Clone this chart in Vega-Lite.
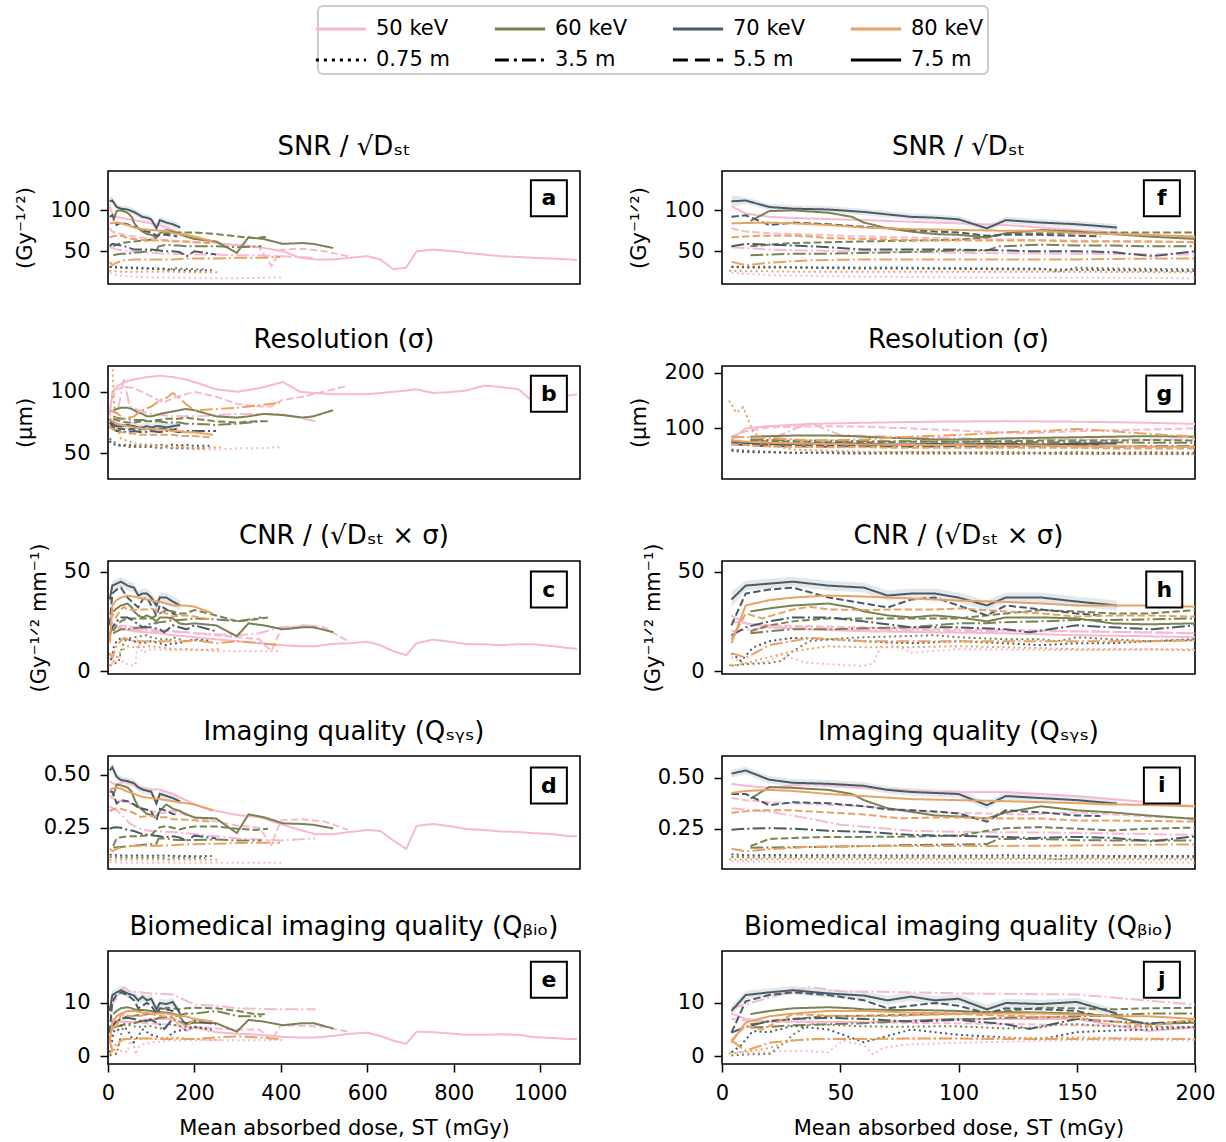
{
"$schema": "https://vega.github.io/schema/vega-lite/v6.json",
"background": "white",
"padding": {"left": 14, "top": 5, "right": 5, "bottom": 5},
"config": {
  "font": "DejaVu Sans",
  "view": {"stroke": "black", "strokeWidth": 1.6},
  "axis": {"labelFontSize": 21, "titleFontSize": 21, "labelColor": "black", "titleColor": "black", "tickColor": "black", "tickSize": 8, "tickWidth": 1.5, "domain": false, "grid": false, "titleFontWeight": "normal", "labelFont": "DejaVu Sans", "titleFont": "DejaVu Sans", "labelPadding": 10, "titlePadding": 14, "labelFlush": false},
  "title": {"fontSize": 26, "fontWeight": "normal", "font": "DejaVu Sans", "offset": 11, "color": "black", "frame": "group"}
},
"resolve": {"scale": {"x": "independent", "y": "independent", "color": "shared", "strokeDash": "shared"}},
"bounds": "flush",
"spacing": {"row": 82, "column": 142},
"columns": 2,
"datasets": {
"bd": [
{"x":4,"sl":104,"sh":118,"rl":70,"rh":86,"cl":32,"ch":40,"ql":0.50,"qh":0.54,"bl":7.5,"bh":9.5},
{"x":10,"sl":108,"sh":116,"rl":71,"rh":77,"cl":40.5,"ch":45.5,"ql":0.517,"qh":0.553,"bl":10.7,"bh":12.3},
{"x":20,"sl":100,"sh":108,"rl":69,"rh":75,"cl":41.5,"ch":46.5,"ql":0.472,"qh":0.508,"bl":11.2,"bh":12.8},
{"x":30,"sl":98,"sh":106,"rl":69,"rh":75,"cl":42.5,"ch":47.5,"ql":0.457,"qh":0.493,"bl":11.6,"bh":13.2},
{"x":45,"sl":97,"sh":105,"rl":70,"rh":76,"cl":40.5,"ch":45.5,"ql":0.452,"qh":0.488,"bl":11,"bh":12.6},
{"x":60,"sl":94,"sh":102,"rl":69,"rh":75,"cl":39.5,"ch":44.5,"ql":0.442,"qh":0.478,"bl":10.6,"bh":12.2},
{"x":70,"sl":91,"sh":99,"rl":68,"rh":74,"cl":35.5,"ch":40.5,"ql":0.422,"qh":0.458,"bl":9.7,"bh":11.3},
{"x":80,"sl":88,"sh":96,"rl":68,"rh":74,"cl":36.5,"ch":41.5,"ql":0.412,"qh":0.448,"bl":10.4,"bh":12},
{"x":90,"sl":87,"sh":95,"rl":69,"rh":75,"cl":36.5,"ch":41.5,"ql":0.407,"qh":0.443,"bl":9.7,"bh":11.3},
{"x":100,"sl":85,"sh":93,"rl":68,"rh":74,"cl":34.5,"ch":39.5,"ql":0.402,"qh":0.438,"bl":10,"bh":11.6},
{"x":112,"sl":74,"sh":82,"rl":69,"rh":75,"cl":30.5,"ch":35.5,"ql":0.347,"qh":0.383,"bl":8,"bh":9.6},
{"x":120,"sl":84,"sh":92,"rl":69,"rh":75,"cl":34.5,"ch":39.5,"ql":0.392,"qh":0.428,"bl":9.2,"bh":10.8},
{"x":135,"sl":81,"sh":89,"rl":68,"rh":74,"cl":34.5,"ch":39.5,"ql":0.382,"qh":0.418,"bl":9,"bh":10.6},
{"x":150,"sl":79,"sh":87,"rl":69,"rh":75,"cl":32.5,"ch":37.5,"ql":0.372,"qh":0.408,"bl":9.4,"bh":11},
{"x":167,"sl":75,"sh":83,"rl":70,"rh":76,"cl":30.5,"ch":35.5,"ql":0.355,"qh":0.391,"bl":7.2,"bh":8.8}
],
"d": [
{"E":"50 keV","d":"7.5 m","x":4,"s":105,"r":80,"c":28,"q":0.47,"b":8},
{"E":"50 keV","d":"7.5 m","x":10,"s":96,"r":100,"c":24,"q":0.46,"b":7},
{"E":"50 keV","d":"7.5 m","x":20,"s":92,"r":104,"c":22,"q":0.45,"b":6.5},
{"E":"50 keV","d":"7.5 m","x":37,"s":90,"r":108,"c":21,"q":0.47,"b":6.5},
{"E":"50 keV","d":"7.5 m","x":60,"s":88,"r":110,"c":20,"q":0.45,"b":6.3},
{"E":"50 keV","d":"7.5 m","x":90,"s":85,"r":112,"c":19.5,"q":0.43,"b":6.9},
{"E":"50 keV","d":"7.5 m","x":120,"s":82,"r":113,"c":19,"q":0.43,"b":7},
{"E":"50 keV","d":"7.5 m","x":150,"s":76,"r":112,"c":18,"q":0.41,"b":7},
{"E":"50 keV","d":"7.5 m","x":180,"s":70,"r":110,"c":17.5,"q":0.38,"b":4.7},
{"E":"50 keV","d":"7.5 m","x":200,"s":66,"r":108,"c":17,"q":0.36,"b":5.4},
{"E":"50 keV","d":"7.5 m","x":250,"s":60,"r":102,"c":16,"q":0.33,"b":4.5},
{"E":"50 keV","d":"7.5 m","x":300,"s":57,"r":100,"c":15,"q":0.31,"b":4.2},
{"E":"50 keV","d":"7.5 m","x":350,"s":55,"r":103,"c":14,"q":0.30,"b":4},
{"E":"50 keV","d":"7.5 m","x":405,"s":50,"r":108,"c":13,"q":0.264,"b":3.6},
{"E":"50 keV","d":"7.5 m","x":444,"s":42,"r":100,"c":12.5,"q":0.24,"b":3.5},
{"E":"50 keV","d":"7.5 m","x":480,"s":40,"r":99,"c":12.5,"q":0.22,"b":3.5},
{"E":"50 keV","d":"7.5 m","x":521,"s":40,"r":98,"c":13.7,"q":0.22,"b":3.8},
{"E":"50 keV","d":"7.5 m","x":560,"s":42,"r":98,"c":14,"q":0.23,"b":4.2},
{"E":"50 keV","d":"7.5 m","x":600,"s":44,"r":98,"c":14.7,"q":0.24,"b":4.4},
{"E":"50 keV","d":"7.5 m","x":630,"s":40,"r":99,"c":13,"q":0.235,"b":3.8},
{"E":"50 keV","d":"7.5 m","x":660,"s":28,"r":100,"c":10,"q":0.19,"b":2.9},
{"E":"50 keV","d":"7.5 m","x":690,"s":30,"r":101,"c":8,"q":0.15,"b":2.3},
{"E":"50 keV","d":"7.5 m","x":714,"s":50,"r":102,"c":14,"q":0.259,"b":4.6},
{"E":"50 keV","d":"7.5 m","x":752,"s":52,"r":99,"c":15.8,"q":0.268,"b":4.5},
{"E":"50 keV","d":"7.5 m","x":800,"s":50,"r":100,"c":14.5,"q":0.255,"b":4.2},
{"E":"50 keV","d":"7.5 m","x":829,"s":48,"r":101,"c":13.5,"q":0.244,"b":4},
{"E":"50 keV","d":"7.5 m","x":870,"s":46,"r":105,"c":13.5,"q":0.24,"b":4},
{"E":"50 keV","d":"7.5 m","x":906,"s":44,"r":104,"c":13,"q":0.233,"b":4.1},
{"E":"50 keV","d":"7.5 m","x":950,"s":43,"r":102,"c":13.5,"q":0.23,"b":4},
{"E":"50 keV","d":"7.5 m","x":983,"s":42,"r":92,"c":13.5,"q":0.225,"b":3.6},
{"E":"50 keV","d":"7.5 m","x":1030,"s":41,"r":95,"c":12.5,"q":0.22,"b":3.4},
{"E":"50 keV","d":"7.5 m","x":1068,"s":40,"r":97,"c":11.5,"q":0.21,"b":3.2},
{"E":"50 keV","d":"7.5 m","x":1085,"s":39,"r":98,"c":11.3,"q":0.21,"b":3.2},
{"E":"50 keV","d":"5.5 m","x":4,"s":78,"r":85,"c":25,"q":0.40,"b":7},
{"E":"50 keV","d":"5.5 m","x":10,"s":74,"r":95,"c":24,"q":0.39,"b":6.8},
{"E":"50 keV","d":"5.5 m","x":20,"s":72,"r":102,"c":23,"q":0.38,"b":6.5},
{"E":"50 keV","d":"5.5 m","x":40,"s":70,"r":104,"c":22.5,"q":0.37,"b":6.4},
{"E":"50 keV","d":"5.5 m","x":60,"s":68,"r":103,"c":22,"q":0.36,"b":6.4},
{"E":"50 keV","d":"5.5 m","x":90,"s":66,"r":98,"c":21,"q":0.33,"b":6.2},
{"E":"50 keV","d":"5.5 m","x":128,"s":64,"r":91,"c":20.5,"q":0.32,"b":6},
{"E":"50 keV","d":"5.5 m","x":150,"s":63,"r":95,"c":20,"q":0.33,"b":5.8},
{"E":"50 keV","d":"5.5 m","x":180,"s":62,"r":98,"c":19.5,"q":0.31,"b":5.6},
{"E":"50 keV","d":"5.5 m","x":200,"s":61,"r":100,"c":19,"q":0.30,"b":5.5},
{"E":"50 keV","d":"5.5 m","x":250,"s":60,"r":96,"c":18,"q":0.28,"b":5.2},
{"E":"50 keV","d":"5.5 m","x":300,"s":58,"r":90,"c":17,"q":0.26,"b":5},
{"E":"50 keV","d":"5.5 m","x":350,"s":55,"r":88,"c":16,"q":0.25,"b":5},
{"E":"50 keV","d":"5.5 m","x":378,"s":32,"r":88,"c":10,"q":0.17,"b":3},
{"E":"50 keV","d":"5.5 m","x":400,"s":52,"r":93,"c":21,"q":0.285,"b":5.8},
{"E":"50 keV","d":"5.5 m","x":450,"s":53,"r":96,"c":23,"q":0.29,"b":5.7},
{"E":"50 keV","d":"5.5 m","x":500,"s":50,"r":100,"c":22,"q":0.28,"b":5.5},
{"E":"50 keV","d":"5.5 m","x":555,"s":44,"r":105,"c":15,"q":0.24,"b":4.6},
{"E":"50 keV","d":"3.5 m","x":4,"s":55,"r":70,"c":20,"q":0.35,"b":9},
{"E":"50 keV","d":"3.5 m","x":20,"s":52,"r":80,"c":22,"q":0.333,"b":11},
{"E":"50 keV","d":"3.5 m","x":37,"s":51,"r":110,"c":22,"q":0.30,"b":13},
{"E":"50 keV","d":"3.5 m","x":50,"s":50,"r":88,"c":21,"q":0.27,"b":12.2},
{"E":"50 keV","d":"3.5 m","x":80,"s":49,"r":84,"c":20.5,"q":0.24,"b":12},
{"E":"50 keV","d":"3.5 m","x":100,"s":48,"r":82,"c":20,"q":0.235,"b":11.8},
{"E":"50 keV","d":"3.5 m","x":150,"s":47,"r":80,"c":20,"q":0.23,"b":11.6},
{"E":"50 keV","d":"3.5 m","x":200,"s":46,"r":80,"c":19,"q":0.22,"b":9.7},
{"E":"50 keV","d":"3.5 m","x":250,"s":46,"r":81,"c":18.5,"q":0.21,"b":9.5},
{"E":"50 keV","d":"3.5 m","x":300,"s":45,"r":82,"c":18,"q":0.20,"b":9},
{"E":"50 keV","d":"3.5 m","x":350,"s":45,"r":82,"c":19,"q":0.195,"b":8.9},
{"E":"50 keV","d":"3.5 m","x":400,"s":44,"r":82,"c":22,"q":0.19,"b":8.8},
{"E":"50 keV","d":"3.5 m","x":480,"s":42,"r":76,"c":23,"q":0.2,"b":8.8},
{"E":"50 keV","d":"0.75 m","x":4,"s":23.6,"r":60,"c":7,"q":0.09,"b":0.7},
{"E":"50 keV","d":"0.75 m","x":10,"s":22.5,"r":58,"c":3.6,"q":0.089,"b":0.7},
{"E":"50 keV","d":"0.75 m","x":20,"s":21,"r":57,"c":5,"q":0.088,"b":0.7},
{"E":"50 keV","d":"0.75 m","x":25,"s":20.5,"r":56,"c":8.4,"q":0.087,"b":0.9},
{"E":"50 keV","d":"0.75 m","x":35,"s":20,"r":56,"c":4.3,"q":0.086,"b":1},
{"E":"50 keV","d":"0.75 m","x":45,"s":19.5,"r":56,"c":3.5,"q":0.086,"b":0.7},
{"E":"50 keV","d":"0.75 m","x":51,"s":19.5,"r":55,"c":3,"q":0.086,"b":2.9},
{"E":"50 keV","d":"0.75 m","x":55,"s":19,"r":55,"c":2.8,"q":0.085,"b":2.5},
{"E":"50 keV","d":"0.75 m","x":60,"s":19,"r":55,"c":2.6,"q":0.085,"b":2},
{"E":"50 keV","d":"0.75 m","x":64,"s":19,"r":55,"c":4,"q":0.085,"b":0.3},
{"E":"50 keV","d":"0.75 m","x":68,"s":19,"r":55,"c":15,"q":0.085,"b":1.5},
{"E":"50 keV","d":"0.75 m","x":75,"s":18.5,"r":55,"c":12,"q":0.085,"b":2},
{"E":"50 keV","d":"0.75 m","x":80,"s":18.5,"r":55,"c":9.2,"q":0.085,"b":2.2},
{"E":"50 keV","d":"0.75 m","x":100,"s":18,"r":55,"c":11,"q":0.085,"b":2.5},
{"E":"50 keV","d":"0.75 m","x":150,"s":18,"r":54,"c":10.5,"q":0.085,"b":3},
{"E":"50 keV","d":"0.75 m","x":200,"s":17,"r":53,"c":11,"q":0.085,"b":3},
{"E":"50 keV","d":"0.75 m","x":250,"s":17,"r":53,"c":10,"q":0.085,"b":3},
{"E":"50 keV","d":"0.75 m","x":300,"s":17,"r":54,"c":10,"q":0.085,"b":3},
{"E":"50 keV","d":"0.75 m","x":350,"s":17.5,"r":54,"c":10,"q":0.085,"b":3},
{"E":"50 keV","d":"0.75 m","x":402,"s":18,"r":55,"c":10,"q":0.085,"b":3},
{"E":"60 keV","d":"7.5 m","x":12,"s":87,"r":85,"c":30,"q":0.397,"b":7.9},
{"E":"60 keV","d":"7.5 m","x":20,"s":99,"r":86,"c":31.5,"q":0.454,"b":8.5},
{"E":"60 keV","d":"7.5 m","x":30,"s":100,"r":87,"c":33,"q":0.45,"b":9},
{"E":"60 keV","d":"7.5 m","x":45,"s":97,"r":87,"c":34,"q":0.44,"b":9.2},
{"E":"60 keV","d":"7.5 m","x":55,"s":92,"r":86,"c":32,"q":0.42,"b":9},
{"E":"60 keV","d":"7.5 m","x":60,"s":85,"r":85,"c":30,"q":0.39,"b":8.8},
{"E":"60 keV","d":"7.5 m","x":70,"s":78,"r":83,"c":28,"q":0.35,"b":8.7},
{"E":"60 keV","d":"7.5 m","x":80,"s":74,"r":82,"c":27,"q":0.333,"b":8.7},
{"E":"60 keV","d":"7.5 m","x":90,"s":71,"r":80,"c":28,"q":0.315,"b":8.6},
{"E":"60 keV","d":"7.5 m","x":100,"s":70,"r":80,"c":27,"q":0.31,"b":8.5},
{"E":"60 keV","d":"7.5 m","x":112,"s":67,"r":81,"c":25,"q":0.30,"b":8.2},
{"E":"60 keV","d":"7.5 m","x":120,"s":72,"r":82,"c":27,"q":0.33,"b":8.3},
{"E":"60 keV","d":"7.5 m","x":135,"s":76,"r":83,"c":27,"q":0.36,"b":8.2},
{"E":"60 keV","d":"7.5 m","x":150,"s":74,"r":84,"c":26.5,"q":0.34,"b":8},
{"E":"60 keV","d":"7.5 m","x":165,"s":71,"r":85,"c":24,"q":0.33,"b":7.5},
{"E":"60 keV","d":"7.5 m","x":180,"s":68,"r":86,"c":23.5,"q":0.315,"b":6},
{"E":"60 keV","d":"7.5 m","x":200,"s":65,"r":85,"c":24,"q":0.298,"b":6.3},
{"E":"60 keV","d":"7.5 m","x":250,"s":62,"r":80,"c":23,"q":0.294,"b":6.2},
{"E":"60 keV","d":"7.5 m","x":298,"s":48,"r":79,"c":17.5,"q":0.225,"b":4.6},
{"E":"60 keV","d":"7.5 m","x":325,"s":67,"r":80,"c":24,"q":0.313,"b":6.8},
{"E":"60 keV","d":"7.5 m","x":360,"s":65,"r":82,"c":23,"q":0.30,"b":6.5},
{"E":"60 keV","d":"7.5 m","x":405,"s":59,"r":81,"c":21,"q":0.271,"b":5.8},
{"E":"60 keV","d":"7.5 m","x":450,"s":60,"r":79,"c":22,"q":0.268,"b":6.2},
{"E":"60 keV","d":"7.5 m","x":475,"s":59,"r":80,"c":22,"q":0.264,"b":6.2},
{"E":"60 keV","d":"7.5 m","x":521,"s":54,"r":85,"c":19.6,"q":0.247,"b":5.2},
{"E":"60 keV","d":"5.5 m","x":12,"s":56,"r":78,"c":20,"q":0.165,"b":6},
{"E":"60 keV","d":"5.5 m","x":20,"s":58,"r":77,"c":23,"q":0.2,"b":6.5},
{"E":"60 keV","d":"5.5 m","x":30,"s":60,"r":76,"c":25,"q":0.205,"b":7},
{"E":"60 keV","d":"5.5 m","x":45,"s":61,"r":75,"c":26.5,"q":0.21,"b":7.5},
{"E":"60 keV","d":"5.5 m","x":60,"s":62,"r":75,"c":26.5,"q":0.21,"b":7.6},
{"E":"60 keV","d":"5.5 m","x":80,"s":63,"r":76,"c":26.5,"q":0.212,"b":7.8},
{"E":"60 keV","d":"5.5 m","x":100,"s":64,"r":76,"c":26.5,"q":0.216,"b":8},
{"E":"60 keV","d":"5.5 m","x":112,"s":67,"r":77,"c":28,"q":0.24,"b":8.3},
{"E":"60 keV","d":"5.5 m","x":120,"s":71,"r":77,"c":29,"q":0.253,"b":8.5},
{"E":"60 keV","d":"5.5 m","x":135,"s":72,"r":78,"c":30.7,"q":0.258,"b":9.1},
{"E":"60 keV","d":"5.5 m","x":150,"s":72,"r":78,"c":30,"q":0.25,"b":9},
{"E":"60 keV","d":"5.5 m","x":165,"s":73,"r":78,"c":29,"q":0.242,"b":8.8},
{"E":"60 keV","d":"5.5 m","x":180,"s":73,"r":79,"c":29,"q":0.25,"b":9},
{"E":"60 keV","d":"5.5 m","x":200,"s":73,"r":78,"c":30.7,"q":0.256,"b":9.1},
{"E":"60 keV","d":"5.5 m","x":250,"s":71,"r":76,"c":28,"q":0.256,"b":9},
{"E":"60 keV","d":"5.5 m","x":300,"s":68,"r":75,"c":25,"q":0.245,"b":8.5},
{"E":"60 keV","d":"5.5 m","x":340,"s":66,"r":76,"c":26,"q":0.24,"b":7.9},
{"E":"60 keV","d":"5.5 m","x":370,"s":68,"r":76,"c":27,"q":0.245,"b":7.9},
{"E":"60 keV","d":"3.5 m","x":12,"s":45,"r":80,"c":19,"q":0.157,"b":5.4},
{"E":"60 keV","d":"3.5 m","x":20,"s":46,"r":79,"c":20,"q":0.158,"b":5.5},
{"E":"60 keV","d":"3.5 m","x":30,"s":47,"r":78,"c":21,"q":0.16,"b":5.8},
{"E":"60 keV","d":"3.5 m","x":45,"s":47,"r":78,"c":21,"q":0.162,"b":6},
{"E":"60 keV","d":"3.5 m","x":60,"s":48,"r":77,"c":21.5,"q":0.165,"b":6.2},
{"E":"60 keV","d":"3.5 m","x":80,"s":49,"r":77,"c":22,"q":0.17,"b":6.6},
{"E":"60 keV","d":"3.5 m","x":100,"s":51,"r":76,"c":24,"q":0.173,"b":7},
{"E":"60 keV","d":"3.5 m","x":112,"s":51,"r":76,"c":24,"q":0.175,"b":7},
{"E":"60 keV","d":"3.5 m","x":117,"s":56,"r":76,"c":24.5,"q":0.2,"b":7.2},
{"E":"60 keV","d":"3.5 m","x":135,"s":58,"r":75,"c":25,"q":0.2,"b":7.3},
{"E":"60 keV","d":"3.5 m","x":150,"s":57,"r":75,"c":25.7,"q":0.194,"b":7.5},
{"E":"60 keV","d":"3.5 m","x":165,"s":57,"r":75,"c":25.7,"q":0.193,"b":7.7},
{"E":"60 keV","d":"3.5 m","x":180,"s":56,"r":74,"c":26,"q":0.193,"b":8},
{"E":"60 keV","d":"3.5 m","x":200,"s":56,"r":74,"c":26.5,"q":0.192,"b":8},
{"E":"60 keV","d":"3.5 m","x":250,"s":56,"r":73,"c":26,"q":0.195,"b":8.5},
{"E":"60 keV","d":"3.5 m","x":300,"s":55,"r":74,"c":25,"q":0.19,"b":7.5},
{"E":"60 keV","d":"3.5 m","x":355,"s":56,"r":76,"c":27,"q":0.19,"b":7.5},
{"E":"60 keV","d":"0.75 m","x":4,"s":31,"r":62,"c":2.6,"q":0.112,"b":0.1},
{"E":"60 keV","d":"0.75 m","x":10,"s":31,"r":60,"c":3.5,"q":0.111,"b":0.3},
{"E":"60 keV","d":"0.75 m","x":20,"s":31,"r":58,"c":4,"q":0.111,"b":0.4},
{"E":"60 keV","d":"0.75 m","x":25,"s":31,"r":57,"c":5,"q":0.11,"b":2},
{"E":"60 keV","d":"0.75 m","x":30,"s":30.5,"r":56,"c":10,"q":0.11,"b":4},
{"E":"60 keV","d":"0.75 m","x":37,"s":30.5,"r":56,"c":15,"q":0.11,"b":6},
{"E":"60 keV","d":"0.75 m","x":50,"s":30.5,"r":55,"c":16.5,"q":0.11,"b":5.8},
{"E":"60 keV","d":"0.75 m","x":60,"s":30,"r":55,"c":17,"q":0.11,"b":5.6},
{"E":"60 keV","d":"0.75 m","x":75,"s":30,"r":55,"c":17.5,"q":0.109,"b":5.5},
{"E":"60 keV","d":"0.75 m","x":90,"s":29.5,"r":55,"c":18,"q":0.109,"b":5.6},
{"E":"60 keV","d":"0.75 m","x":100,"s":29.5,"r":55,"c":17,"q":0.109,"b":5.6},
{"E":"60 keV","d":"0.75 m","x":120,"s":29,"r":54,"c":16,"q":0.109,"b":5.2},
{"E":"60 keV","d":"0.75 m","x":135,"s":29,"r":55,"c":16,"q":0.108,"b":5.4},
{"E":"60 keV","d":"0.75 m","x":142,"s":25,"r":54,"c":15,"q":0.1,"b":6},
{"E":"60 keV","d":"0.75 m","x":150,"s":30,"r":54,"c":17,"q":0.109,"b":6},
{"E":"60 keV","d":"0.75 m","x":165,"s":29,"r":54,"c":16,"q":0.109,"b":5.6},
{"E":"60 keV","d":"0.75 m","x":180,"s":28.5,"r":54,"c":15,"q":0.109,"b":5.5},
{"E":"60 keV","d":"0.75 m","x":200,"s":28,"r":54,"c":15.5,"q":0.109,"b":5.4},
{"E":"60 keV","d":"0.75 m","x":225,"s":28,"r":54,"c":15,"q":0.108,"b":5.3},
{"E":"70 keV","d":"7.5 m","x":4,"s":111,"r":78,"c":36,"q":0.52,"b":8.5},
{"E":"70 keV","d":"7.5 m","x":10,"s":112,"r":74,"c":43,"q":0.535,"b":11.5},
{"E":"70 keV","d":"7.5 m","x":20,"s":104,"r":72,"c":44,"q":0.49,"b":12},
{"E":"70 keV","d":"7.5 m","x":30,"s":102,"r":72,"c":45,"q":0.475,"b":12.4},
{"E":"70 keV","d":"7.5 m","x":45,"s":101,"r":73,"c":43,"q":0.47,"b":11.8},
{"E":"70 keV","d":"7.5 m","x":60,"s":98,"r":72,"c":42,"q":0.46,"b":11.4},
{"E":"70 keV","d":"7.5 m","x":70,"s":95,"r":71,"c":38,"q":0.44,"b":10.5},
{"E":"70 keV","d":"7.5 m","x":80,"s":92,"r":71,"c":39,"q":0.43,"b":11.2},
{"E":"70 keV","d":"7.5 m","x":90,"s":91,"r":72,"c":39,"q":0.425,"b":10.5},
{"E":"70 keV","d":"7.5 m","x":100,"s":89,"r":71,"c":37,"q":0.42,"b":10.8},
{"E":"70 keV","d":"7.5 m","x":112,"s":78,"r":72,"c":33,"q":0.365,"b":8.8},
{"E":"70 keV","d":"7.5 m","x":120,"s":88,"r":72,"c":37,"q":0.41,"b":10},
{"E":"70 keV","d":"7.5 m","x":135,"s":85,"r":71,"c":37,"q":0.40,"b":9.8},
{"E":"70 keV","d":"7.5 m","x":150,"s":83,"r":72,"c":35,"q":0.39,"b":10.2},
{"E":"70 keV","d":"7.5 m","x":167,"s":79,"r":73,"c":33,"q":0.373,"b":8},
{"E":"70 keV","d":"5.5 m","x":4,"s":92,"r":75,"c":23,"q":0.42,"b":4.4},
{"E":"70 keV","d":"5.5 m","x":10,"s":94,"r":72,"c":39,"q":0.42,"b":10.3},
{"E":"70 keV","d":"5.5 m","x":20,"s":82,"r":70,"c":41,"q":0.365,"b":11.5},
{"E":"70 keV","d":"5.5 m","x":30,"s":85,"r":70,"c":42,"q":0.38,"b":12},
{"E":"70 keV","d":"5.5 m","x":45,"s":83,"r":69,"c":37,"q":0.375,"b":11.5},
{"E":"70 keV","d":"5.5 m","x":60,"s":80,"r":70,"c":34,"q":0.36,"b":10.5},
{"E":"70 keV","d":"5.5 m","x":70,"s":78,"r":69,"c":32,"q":0.345,"b":9},
{"E":"70 keV","d":"5.5 m","x":80,"s":76,"r":70,"c":36,"q":0.34,"b":9.5},
{"E":"70 keV","d":"5.5 m","x":90,"s":74,"r":69,"c":37,"q":0.335,"b":10},
{"E":"70 keV","d":"5.5 m","x":100,"s":73,"r":70,"c":33,"q":0.325,"b":9.5},
{"E":"70 keV","d":"5.5 m","x":112,"s":69,"r":69,"c":28,"q":0.285,"b":8},
{"E":"70 keV","d":"5.5 m","x":120,"s":70,"r":70,"c":33,"q":0.34,"b":9},
{"E":"70 keV","d":"5.5 m","x":135,"s":70,"r":70,"c":31,"q":0.33,"b":8.8},
{"E":"70 keV","d":"5.5 m","x":150,"s":69,"r":69,"c":29,"q":0.315,"b":8.5},
{"E":"70 keV","d":"5.5 m","x":160,"s":68,"r":70,"c":28,"q":0.312,"b":7.5},
{"E":"70 keV","d":"3.5 m","x":4,"s":56,"r":72,"c":18,"q":0.245,"b":4.4},
{"E":"70 keV","d":"3.5 m","x":10,"s":59,"r":70,"c":22,"q":0.25,"b":5.5},
{"E":"70 keV","d":"3.5 m","x":20,"s":58,"r":68,"c":25,"q":0.253,"b":6.6},
{"E":"70 keV","d":"3.5 m","x":30,"s":57,"r":68,"c":27,"q":0.25,"b":7},
{"E":"70 keV","d":"3.5 m","x":45,"s":55,"r":67,"c":27,"q":0.24,"b":7.2},
{"E":"70 keV","d":"3.5 m","x":60,"s":52,"r":68,"c":25,"q":0.235,"b":7},
{"E":"70 keV","d":"3.5 m","x":80,"s":52,"r":67,"c":22,"q":0.22,"b":6.5},
{"E":"70 keV","d":"3.5 m","x":100,"s":52,"r":68,"c":22,"q":0.215,"b":6.8},
{"E":"70 keV","d":"3.5 m","x":120,"s":51,"r":67,"c":21,"q":0.21,"b":6},
{"E":"70 keV","d":"3.5 m","x":130,"s":50,"r":68,"c":19.5,"q":0.205,"b":5.1},
{"E":"70 keV","d":"3.5 m","x":150,"s":50,"r":68,"c":23,"q":0.21,"b":7},
{"E":"70 keV","d":"3.5 m","x":165,"s":49,"r":67,"c":22,"q":0.205,"b":6.5},
{"E":"70 keV","d":"3.5 m","x":182,"s":44,"r":68,"c":21,"q":0.189,"b":6.2},
{"E":"70 keV","d":"3.5 m","x":200,"s":50,"r":68,"c":23,"q":0.213,"b":6.6},
{"E":"70 keV","d":"3.5 m","x":250,"s":46,"r":68,"c":20,"q":0.2,"b":6},
{"E":"70 keV","d":"0.75 m","x":4,"s":31,"r":60,"c":9,"q":0.125,"b":0.7},
{"E":"70 keV","d":"0.75 m","x":8,"s":30.5,"r":58,"c":5,"q":0.122,"b":2},
{"E":"70 keV","d":"0.75 m","x":13,"s":30,"r":57,"c":11.7,"q":0.12,"b":4.7},
{"E":"70 keV","d":"0.75 m","x":20,"s":30,"r":57,"c":15,"q":0.122,"b":4.5},
{"E":"70 keV","d":"0.75 m","x":30,"s":30,"r":56,"c":16.7,"q":0.12,"b":5.7},
{"E":"70 keV","d":"0.75 m","x":45,"s":29.5,"r":57,"c":16,"q":0.12,"b":5},
{"E":"70 keV","d":"0.75 m","x":60,"s":29,"r":56,"c":15,"q":0.12,"b":2.6},
{"E":"70 keV","d":"0.75 m","x":80,"s":29,"r":57,"c":14,"q":0.119,"b":5},
{"E":"70 keV","d":"0.75 m","x":100,"s":28.5,"r":56,"c":15,"q":0.118,"b":4},
{"E":"70 keV","d":"0.75 m","x":120,"s":28,"r":57,"c":14,"q":0.12,"b":3.5},
{"E":"70 keV","d":"0.75 m","x":135,"s":28,"r":56,"c":13,"q":0.118,"b":3.2},
{"E":"70 keV","d":"0.75 m","x":150,"s":27.5,"r":57,"c":14,"q":0.118,"b":4.5},
{"E":"70 keV","d":"0.75 m","x":165,"s":27,"r":56,"c":14,"q":0.117,"b":4.8},
{"E":"70 keV","d":"0.75 m","x":180,"s":26.5,"r":57,"c":15,"q":0.117,"b":5},
{"E":"70 keV","d":"0.75 m","x":200,"s":26,"r":56,"c":16,"q":0.116,"b":5.5},
{"E":"70 keV","d":"0.75 m","x":240,"s":27,"r":56,"c":15,"q":0.117,"b":5},
{"E":"80 keV","d":"7.5 m","x":4,"s":84,"r":78,"c":14,"q":0.425,"b":2.6},
{"E":"80 keV","d":"7.5 m","x":10,"s":84.5,"r":76,"c":33,"q":0.435,"b":6.3},
{"E":"80 keV","d":"7.5 m","x":20,"s":85,"r":74,"c":35.7,"q":0.44,"b":7.5},
{"E":"80 keV","d":"7.5 m","x":30,"s":84,"r":73,"c":37,"q":0.435,"b":8},
{"E":"80 keV","d":"7.5 m","x":45,"s":82,"r":72,"c":38,"q":0.42,"b":8.5},
{"E":"80 keV","d":"7.5 m","x":60,"s":79,"r":71,"c":37.5,"q":0.41,"b":8.5},
{"E":"80 keV","d":"7.5 m","x":80,"s":77,"r":70,"c":36.5,"q":0.395,"b":8.2},
{"E":"80 keV","d":"7.5 m","x":100,"s":76,"r":70,"c":35.5,"q":0.39,"b":8},
{"E":"80 keV","d":"7.5 m","x":120,"s":75,"r":69,"c":34.8,"q":0.385,"b":8},
{"E":"80 keV","d":"7.5 m","x":135,"s":75,"r":69,"c":34,"q":0.38,"b":8},
{"E":"80 keV","d":"7.5 m","x":150,"s":72,"r":68,"c":33,"q":0.375,"b":7.8},
{"E":"80 keV","d":"7.5 m","x":165,"s":71,"r":68,"c":33,"q":0.37,"b":7.5},
{"E":"80 keV","d":"7.5 m","x":180,"s":70,"r":67,"c":33,"q":0.366,"b":7.5},
{"E":"80 keV","d":"7.5 m","x":200,"s":68,"r":67,"c":32.4,"q":0.36,"b":7},
{"E":"80 keV","d":"7.5 m","x":243,"s":62,"r":65,"c":29,"q":0.33,"b":6.5},
{"E":"80 keV","d":"5.5 m","x":4,"s":67,"r":72,"c":16,"q":0.328,"b":3},
{"E":"80 keV","d":"5.5 m","x":10,"s":68,"r":70,"c":29,"q":0.335,"b":5.7},
{"E":"80 keV","d":"5.5 m","x":17,"s":69,"r":68,"c":26.5,"q":0.341,"b":5},
{"E":"80 keV","d":"5.5 m","x":30,"s":69,"r":67,"c":31,"q":0.34,"b":7.9},
{"E":"80 keV","d":"5.5 m","x":37,"s":68,"r":67,"c":32.3,"q":0.335,"b":7.8},
{"E":"80 keV","d":"5.5 m","x":45,"s":66,"r":66,"c":31,"q":0.33,"b":7.6},
{"E":"80 keV","d":"5.5 m","x":60,"s":65,"r":66,"c":30.7,"q":0.32,"b":7.5},
{"E":"80 keV","d":"5.5 m","x":75,"s":64,"r":65,"c":31,"q":0.301,"b":7.6},
{"E":"80 keV","d":"5.5 m","x":90,"s":63,"r":65,"c":31,"q":0.305,"b":7.8},
{"E":"80 keV","d":"5.5 m","x":100,"s":63,"r":65,"c":31.5,"q":0.305,"b":7.9},
{"E":"80 keV","d":"5.5 m","x":120,"s":63,"r":65,"c":30,"q":0.30,"b":7.6},
{"E":"80 keV","d":"5.5 m","x":135,"s":63,"r":65,"c":29,"q":0.30,"b":7.4},
{"E":"80 keV","d":"5.5 m","x":150,"s":62,"r":65,"c":27.4,"q":0.29,"b":7.2},
{"E":"80 keV","d":"5.5 m","x":165,"s":62,"r":64,"c":28,"q":0.29,"b":6.5},
{"E":"80 keV","d":"5.5 m","x":180,"s":62,"r":64,"c":28,"q":0.288,"b":5.7},
{"E":"80 keV","d":"5.5 m","x":200,"s":61,"r":64,"c":27.4,"q":0.285,"b":6.9},
{"E":"80 keV","d":"5.5 m","x":235,"s":60,"r":63,"c":26,"q":0.28,"b":6.5},
{"E":"80 keV","d":"3.5 m","x":4,"s":37,"r":85,"c":9,"q":0.152,"b":2.9},
{"E":"80 keV","d":"3.5 m","x":10,"s":33,"r":84,"c":6.7,"q":0.14,"b":1},
{"E":"80 keV","d":"3.5 m","x":20,"s":36,"r":83,"c":13,"q":0.15,"b":2.5},
{"E":"80 keV","d":"3.5 m","x":37,"s":39,"r":78,"c":16.7,"q":0.162,"b":3.2},
{"E":"80 keV","d":"3.5 m","x":60,"s":40,"r":80,"c":15,"q":0.165,"b":3.2},
{"E":"80 keV","d":"3.5 m","x":80,"s":40,"r":85,"c":15,"q":0.165,"b":3.3},
{"E":"80 keV","d":"3.5 m","x":100,"s":40,"r":88,"c":15,"q":0.165,"b":3.3},
{"E":"80 keV","d":"3.5 m","x":120,"s":40,"r":93,"c":15,"q":0.166,"b":3.2},
{"E":"80 keV","d":"3.5 m","x":135,"s":40,"r":95,"c":15,"q":0.167,"b":3.2},
{"E":"80 keV","d":"3.5 m","x":150,"s":40,"r":99,"c":15,"q":0.168,"b":3.2},
{"E":"80 keV","d":"3.5 m","x":165,"s":40.5,"r":95,"c":15,"q":0.17,"b":3.3},
{"E":"80 keV","d":"3.5 m","x":180,"s":41,"r":90,"c":15,"q":0.172,"b":3.2},
{"E":"80 keV","d":"3.5 m","x":200,"s":41,"r":85,"c":15.5,"q":0.173,"b":3.2},
{"E":"80 keV","d":"3.5 m","x":250,"s":41,"r":86,"c":14,"q":0.175,"b":3.5},
{"E":"80 keV","d":"3.5 m","x":300,"s":42,"r":87,"c":15,"q":0.178,"b":3.7},
{"E":"80 keV","d":"3.5 m","x":350,"s":42,"r":89,"c":14,"q":0.18,"b":3.5},
{"E":"80 keV","d":"3.5 m","x":398,"s":43,"r":91,"c":13,"q":0.18,"b":3.2},
{"E":"80 keV","d":"0.75 m","x":3,"s":26,"r":150,"c":3,"q":0.1,"b":0.5},
{"E":"80 keV","d":"0.75 m","x":6,"s":26,"r":128,"c":3,"q":0.1,"b":0.6},
{"E":"80 keV","d":"0.75 m","x":9,"s":25.5,"r":138,"c":3.5,"q":0.1,"b":0.8},
{"E":"80 keV","d":"0.75 m","x":13,"s":25.5,"r":95,"c":5,"q":0.1,"b":1},
{"E":"80 keV","d":"0.75 m","x":20,"s":25.5,"r":70,"c":7,"q":0.101,"b":1.5},
{"E":"80 keV","d":"0.75 m","x":30,"s":25,"r":62,"c":10,"q":0.101,"b":3},
{"E":"80 keV","d":"0.75 m","x":45,"s":25,"r":60,"c":12.5,"q":0.101,"b":3.2},
{"E":"80 keV","d":"0.75 m","x":60,"s":25,"r":58,"c":12,"q":0.101,"b":3.2},
{"E":"80 keV","d":"0.75 m","x":80,"s":25,"r":57,"c":12,"q":0.101,"b":3.3},
{"E":"80 keV","d":"0.75 m","x":100,"s":25,"r":57,"c":12.5,"q":0.101,"b":3.3},
{"E":"80 keV","d":"0.75 m","x":120,"s":25,"r":56,"c":12,"q":0.101,"b":3.4},
{"E":"80 keV","d":"0.75 m","x":150,"s":25,"r":55,"c":11,"q":0.101,"b":3.5},
{"E":"80 keV","d":"0.75 m","x":180,"s":24.5,"r":55,"c":11,"q":0.1,"b":3.3},
{"E":"80 keV","d":"0.75 m","x":200,"s":24.5,"r":54,"c":10.5,"q":0.1,"b":3.2},
{"E":"80 keV","d":"0.75 m","x":260,"s":24.5,"r":55,"c":11,"q":0.1,"b":3}
]
},
"concat": [
{"width":472,"height":113,"title":"SNR / √Dₛₜ","layer":[
 {"data":{"name":"bd"},"mark":{"type":"area","color":"#4a5b67","opacity":0.14,"clip":true},"encoding":{"x":{"field":"x","type":"quantitative","scale":{"domain":[0,1092],"nice":false},"axis":null},"y":{"field":"sl","type":"quantitative","scale":{"domain":[10,148],"nice":false,"zero":false},"axis":{"values":[50,100],"title":"(Gy⁻¹ᐟ²)"}},"y2":{"field":"sh"}}},
 {"data":{"name":"d"},"mark":{"type":"line","strokeWidth":2,"clip":true},"encoding":{
  "x":{"field":"x","type":"quantitative","scale":{"domain":[0,1092],"nice":false},"axis":null},
  "y":{"field":"s","type":"quantitative","scale":{"domain":[10,148],"nice":false,"zero":false},"axis":{"values":[50,100],"title":"(Gy⁻¹ᐟ²)"}},
  "color":{"field":"E","type":"nominal","scale":{"domain":["50 keV","60 keV","70 keV","80 keV","0.75 m","3.5 m","5.5 m","7.5 m"],"range":["#f7b9cf","#7b8252","#4a5b67","#e9a263","#000000","#000000","#000000","#000000"]},"legend":{"orient":"none","legendX":210,"legendY":-165,"columns":4,"direction":"horizontal","title":null,"symbolType":"M-1.45,0H1.45","symbolSize":1200,"symbolStrokeWidth":3,"labelFontSize":21,"labelFont":"DejaVu Sans","labelColor":"black","labelOffset":16,"labelLimit":300,"columnPadding":38,"rowPadding":2,"padding":4,"strokeColor":"#cccccc","cornerRadius":5,"encode":{"symbols":{"update":{"strokeDash":{"signal":"datum.value=='0.75 m'?[3,5]:datum.value=='3.5 m'?[14,5,3,5]:datum.value=='5.5 m'?[15,7]:[1,0]"}}},"legend":{"update":{"strokeWidth":{"value":2}}}}}},
  "strokeDash":{"field":"d","type":"nominal","scale":{"domain":["0.75 m","3.5 m","5.5 m","7.5 m"],"range":[[2,3.3],[12.8,3.2,2,3.2],[7.4,3.2],[1,0]]},"legend":null}}},
 {"data":{"values":[{"t":"a"}]},"mark":{"type":"square","size":1296,"fill":"white","stroke":"black","strokeWidth":2,"opacity":1},"encoding":{"x":{"datum":1020,"type":"quantitative","axis":null},"y":{"datum":114.6,"type":"quantitative","axis":{"values":[50,100],"title":"(Gy⁻¹ᐟ²)"}}}},
 {"data":{"values":[{"t":"a"}]},"mark":{"type":"text","fontSize":22,"fontWeight":"bold","color":"black","baseline":"middle","align":"center"},"encoding":{"text":{"field":"t"},"x":{"datum":1020,"type":"quantitative","axis":null},"y":{"datum":114.6,"type":"quantitative","axis":{"values":[50,100],"title":"(Gy⁻¹ᐟ²)"}}}}
]},
{"width":473,"height":113,"title":"SNR / √Dₛₜ","layer":[
 {"data":{"name":"bd"},"mark":{"type":"area","color":"#4a5b67","opacity":0.14,"clip":true},"encoding":{"x":{"field":"x","type":"quantitative","scale":{"domain":[0,200],"nice":false},"axis":null},"y":{"field":"sl","type":"quantitative","scale":{"domain":[10,148],"nice":false,"zero":false},"axis":{"values":[50,100],"title":"(Gy⁻¹ᐟ²)"}},"y2":{"field":"sh"}}},
 {"data":{"name":"d"},"mark":{"type":"line","strokeWidth":2,"clip":true},"encoding":{
  "x":{"field":"x","type":"quantitative","scale":{"domain":[0,200],"nice":false},"axis":null},
  "y":{"field":"s","type":"quantitative","scale":{"domain":[10,148],"nice":false,"zero":false},"axis":{"values":[50,100],"title":"(Gy⁻¹ᐟ²)"}},
  "color":{"field":"E","type":"nominal","scale":{"domain":["50 keV","60 keV","70 keV","80 keV","0.75 m","3.5 m","5.5 m","7.5 m"],"range":["#f7b9cf","#7b8252","#4a5b67","#e9a263","#000000","#000000","#000000","#000000"]},"legend":{"orient":"none","legendX":210,"legendY":-165,"columns":4,"direction":"horizontal","title":null,"symbolType":"M-1.45,0H1.45","symbolSize":1200,"symbolStrokeWidth":3,"labelFontSize":21,"labelFont":"DejaVu Sans","labelColor":"black","labelOffset":16,"labelLimit":300,"columnPadding":38,"rowPadding":2,"padding":4,"strokeColor":"#cccccc","cornerRadius":5,"encode":{"symbols":{"update":{"strokeDash":{"signal":"datum.value=='0.75 m'?[3,5]:datum.value=='3.5 m'?[14,5,3,5]:datum.value=='5.5 m'?[15,7]:[1,0]"}}},"legend":{"update":{"strokeWidth":{"value":2}}}}}},
  "strokeDash":{"field":"d","type":"nominal","scale":{"domain":["0.75 m","3.5 m","5.5 m","7.5 m"],"range":[[2,3.3],[12.8,3.2,2,3.2],[7.4,3.2],[1,0]]},"legend":null}}},
 {"data":{"values":[{"t":"f"}]},"mark":{"type":"square","size":1296,"fill":"white","stroke":"black","strokeWidth":2,"opacity":1},"encoding":{"x":{"datum":186,"type":"quantitative","axis":null},"y":{"datum":114.6,"type":"quantitative","axis":{"values":[50,100],"title":"(Gy⁻¹ᐟ²)"}}}},
 {"data":{"values":[{"t":"f"}]},"mark":{"type":"text","fontSize":22,"fontWeight":"bold","color":"black","baseline":"middle","align":"center"},"encoding":{"text":{"field":"t"},"x":{"datum":186,"type":"quantitative","axis":null},"y":{"datum":114.6,"type":"quantitative","axis":{"values":[50,100],"title":"(Gy⁻¹ᐟ²)"}}}}
]},
{"width":472,"height":113,"title":{"text":"Resolution (σ)","dy":-2},"layer":[
 {"data":{"name":"bd"},"mark":{"type":"area","color":"#4a5b67","opacity":0.14,"clip":true},"encoding":{"x":{"field":"x","type":"quantitative","scale":{"domain":[0,1092],"nice":false},"axis":null},"y":{"field":"rl","type":"quantitative","scale":{"domain":[29,121],"nice":false,"zero":false},"axis":{"values":[50,100],"title":"(μm)"}},"y2":{"field":"rh"}}},
 {"data":{"name":"d"},"mark":{"type":"line","strokeWidth":2,"clip":true},"encoding":{
  "x":{"field":"x","type":"quantitative","scale":{"domain":[0,1092],"nice":false},"axis":null},
  "y":{"field":"r","type":"quantitative","scale":{"domain":[29,121],"nice":false,"zero":false},"axis":{"values":[50,100],"title":"(μm)"}},
  "color":{"field":"E","type":"nominal","scale":{"domain":["50 keV","60 keV","70 keV","80 keV","0.75 m","3.5 m","5.5 m","7.5 m"],"range":["#f7b9cf","#7b8252","#4a5b67","#e9a263","#000000","#000000","#000000","#000000"]},"legend":{"orient":"none","legendX":210,"legendY":-165,"columns":4,"direction":"horizontal","title":null,"symbolType":"M-1.45,0H1.45","symbolSize":1200,"symbolStrokeWidth":3,"labelFontSize":21,"labelFont":"DejaVu Sans","labelColor":"black","labelOffset":16,"labelLimit":300,"columnPadding":38,"rowPadding":2,"padding":4,"strokeColor":"#cccccc","cornerRadius":5,"encode":{"symbols":{"update":{"strokeDash":{"signal":"datum.value=='0.75 m'?[3,5]:datum.value=='3.5 m'?[14,5,3,5]:datum.value=='5.5 m'?[15,7]:[1,0]"}}},"legend":{"update":{"strokeWidth":{"value":2}}}}}},
  "strokeDash":{"field":"d","type":"nominal","scale":{"domain":["0.75 m","3.5 m","5.5 m","7.5 m"],"range":[[2,3.3],[12.8,3.2,2,3.2],[7.4,3.2],[1,0]]},"legend":null}}},
 {"data":{"values":[{"t":"b"}]},"mark":{"type":"square","size":1296,"fill":"white","stroke":"black","strokeWidth":2,"opacity":1},"encoding":{"x":{"datum":1020,"type":"quantitative","axis":null},"y":{"datum":98.4,"type":"quantitative","axis":{"values":[50,100],"title":"(μm)"}}}},
 {"data":{"values":[{"t":"b"}]},"mark":{"type":"text","fontSize":22,"fontWeight":"bold","color":"black","baseline":"middle","align":"center"},"encoding":{"text":{"field":"t"},"x":{"datum":1020,"type":"quantitative","axis":null},"y":{"datum":98.4,"type":"quantitative","axis":{"values":[50,100],"title":"(μm)"}}}}
]},
{"width":473,"height":113,"title":{"text":"Resolution (σ)","dy":2},"layer":[
 {"data":{"name":"bd"},"mark":{"type":"area","color":"#4a5b67","opacity":0.14,"clip":true},"encoding":{"x":{"field":"x","type":"quantitative","scale":{"domain":[0,200],"nice":false},"axis":null},"y":{"field":"rl","type":"quantitative","scale":{"domain":[9,212],"nice":false,"zero":false},"axis":{"values":[100,200],"title":"(μm)"}},"y2":{"field":"rh"}}},
 {"data":{"name":"d"},"mark":{"type":"line","strokeWidth":2,"clip":true},"encoding":{
  "x":{"field":"x","type":"quantitative","scale":{"domain":[0,200],"nice":false},"axis":null},
  "y":{"field":"r","type":"quantitative","scale":{"domain":[9,212],"nice":false,"zero":false},"axis":{"values":[100,200],"title":"(μm)"}},
  "color":{"field":"E","type":"nominal","scale":{"domain":["50 keV","60 keV","70 keV","80 keV","0.75 m","3.5 m","5.5 m","7.5 m"],"range":["#f7b9cf","#7b8252","#4a5b67","#e9a263","#000000","#000000","#000000","#000000"]},"legend":{"orient":"none","legendX":210,"legendY":-165,"columns":4,"direction":"horizontal","title":null,"symbolType":"M-1.45,0H1.45","symbolSize":1200,"symbolStrokeWidth":3,"labelFontSize":21,"labelFont":"DejaVu Sans","labelColor":"black","labelOffset":16,"labelLimit":300,"columnPadding":38,"rowPadding":2,"padding":4,"strokeColor":"#cccccc","cornerRadius":5,"encode":{"symbols":{"update":{"strokeDash":{"signal":"datum.value=='0.75 m'?[3,5]:datum.value=='3.5 m'?[14,5,3,5]:datum.value=='5.5 m'?[15,7]:[1,0]"}}},"legend":{"update":{"strokeWidth":{"value":2}}}}}},
  "strokeDash":{"field":"d","type":"nominal","scale":{"domain":["0.75 m","3.5 m","5.5 m","7.5 m"],"range":[[2,3.3],[12.8,3.2,2,3.2],[7.4,3.2],[1,0]]},"legend":null}}},
 {"data":{"values":[{"t":"g"}]},"mark":{"type":"square","size":1296,"fill":"white","stroke":"black","strokeWidth":2,"opacity":1},"encoding":{"x":{"datum":187,"type":"quantitative","axis":null},"y":{"datum":162.5,"type":"quantitative","axis":{"values":[100,200],"title":"(μm)"}}}},
 {"data":{"values":[{"t":"g"}]},"mark":{"type":"text","fontSize":22,"fontWeight":"bold","color":"black","baseline":"middle","align":"center"},"encoding":{"text":{"field":"t"},"x":{"datum":187,"type":"quantitative","axis":null},"y":{"datum":162.5,"type":"quantitative","axis":{"values":[100,200],"title":"(μm)"}}}}
]},
{"width":472,"height":113,"title":{"text":"CNR / (√Dₛₜ × σ)","dy":17},"layer":[
 {"data":{"name":"bd"},"mark":{"type":"area","color":"#4a5b67","opacity":0.14,"clip":true},"encoding":{"x":{"field":"x","type":"quantitative","scale":{"domain":[0,1092],"nice":false},"axis":null},"y":{"field":"cl","type":"quantitative","scale":{"domain":[-1.5,55.4],"nice":false,"zero":false},"axis":{"values":[0,50],"title":"(Gy⁻¹ᐟ² mm⁻¹)"}},"y2":{"field":"ch"}}},
 {"data":{"name":"d"},"mark":{"type":"line","strokeWidth":2,"clip":true},"encoding":{
  "x":{"field":"x","type":"quantitative","scale":{"domain":[0,1092],"nice":false},"axis":null},
  "y":{"field":"c","type":"quantitative","scale":{"domain":[-1.5,55.4],"nice":false,"zero":false},"axis":{"values":[0,50],"title":"(Gy⁻¹ᐟ² mm⁻¹)"}},
  "color":{"field":"E","type":"nominal","scale":{"domain":["50 keV","60 keV","70 keV","80 keV","0.75 m","3.5 m","5.5 m","7.5 m"],"range":["#f7b9cf","#7b8252","#4a5b67","#e9a263","#000000","#000000","#000000","#000000"]},"legend":{"orient":"none","legendX":210,"legendY":-165,"columns":4,"direction":"horizontal","title":null,"symbolType":"M-1.45,0H1.45","symbolSize":1200,"symbolStrokeWidth":3,"labelFontSize":21,"labelFont":"DejaVu Sans","labelColor":"black","labelOffset":16,"labelLimit":300,"columnPadding":38,"rowPadding":2,"padding":4,"strokeColor":"#cccccc","cornerRadius":5,"encode":{"symbols":{"update":{"strokeDash":{"signal":"datum.value=='0.75 m'?[3,5]:datum.value=='3.5 m'?[14,5,3,5]:datum.value=='5.5 m'?[15,7]:[1,0]"}}},"legend":{"update":{"strokeWidth":{"value":2}}}}}},
  "strokeDash":{"field":"d","type":"nominal","scale":{"domain":["0.75 m","3.5 m","5.5 m","7.5 m"],"range":[[2,3.3],[12.8,3.2,2,3.2],[7.4,3.2],[1,0]]},"legend":null}}},
 {"data":{"values":[{"t":"c"}]},"mark":{"type":"square","size":1296,"fill":"white","stroke":"black","strokeWidth":2,"opacity":1},"encoding":{"x":{"datum":1020,"type":"quantitative","axis":null},"y":{"datum":41,"type":"quantitative","axis":{"values":[0,50],"title":"(Gy⁻¹ᐟ² mm⁻¹)"}}}},
 {"data":{"values":[{"t":"c"}]},"mark":{"type":"text","fontSize":22,"fontWeight":"bold","color":"black","baseline":"middle","align":"center"},"encoding":{"text":{"field":"t"},"x":{"datum":1020,"type":"quantitative","axis":null},"y":{"datum":41,"type":"quantitative","axis":{"values":[0,50],"title":"(Gy⁻¹ᐟ² mm⁻¹)"}}}}
]},
{"width":473,"height":113,"title":{"text":"CNR / (√Dₛₜ × σ)","dy":17},"layer":[
 {"data":{"name":"bd"},"mark":{"type":"area","color":"#4a5b67","opacity":0.14,"clip":true},"encoding":{"x":{"field":"x","type":"quantitative","scale":{"domain":[0,200],"nice":false},"axis":null},"y":{"field":"cl","type":"quantitative","scale":{"domain":[-1.5,55.4],"nice":false,"zero":false},"axis":{"values":[0,50],"title":"(Gy⁻¹ᐟ² mm⁻¹)"}},"y2":{"field":"ch"}}},
 {"data":{"name":"d"},"mark":{"type":"line","strokeWidth":2,"clip":true},"encoding":{
  "x":{"field":"x","type":"quantitative","scale":{"domain":[0,200],"nice":false},"axis":null},
  "y":{"field":"c","type":"quantitative","scale":{"domain":[-1.5,55.4],"nice":false,"zero":false},"axis":{"values":[0,50],"title":"(Gy⁻¹ᐟ² mm⁻¹)"}},
  "color":{"field":"E","type":"nominal","scale":{"domain":["50 keV","60 keV","70 keV","80 keV","0.75 m","3.5 m","5.5 m","7.5 m"],"range":["#f7b9cf","#7b8252","#4a5b67","#e9a263","#000000","#000000","#000000","#000000"]},"legend":{"orient":"none","legendX":210,"legendY":-165,"columns":4,"direction":"horizontal","title":null,"symbolType":"M-1.45,0H1.45","symbolSize":1200,"symbolStrokeWidth":3,"labelFontSize":21,"labelFont":"DejaVu Sans","labelColor":"black","labelOffset":16,"labelLimit":300,"columnPadding":38,"rowPadding":2,"padding":4,"strokeColor":"#cccccc","cornerRadius":5,"encode":{"symbols":{"update":{"strokeDash":{"signal":"datum.value=='0.75 m'?[3,5]:datum.value=='3.5 m'?[14,5,3,5]:datum.value=='5.5 m'?[15,7]:[1,0]"}}},"legend":{"update":{"strokeWidth":{"value":2}}}}}},
  "strokeDash":{"field":"d","type":"nominal","scale":{"domain":["0.75 m","3.5 m","5.5 m","7.5 m"],"range":[[2,3.3],[12.8,3.2,2,3.2],[7.4,3.2],[1,0]]},"legend":null}}},
 {"data":{"values":[{"t":"h"}]},"mark":{"type":"square","size":1296,"fill":"white","stroke":"black","strokeWidth":2,"opacity":1},"encoding":{"x":{"datum":187,"type":"quantitative","axis":null},"y":{"datum":41,"type":"quantitative","axis":{"values":[0,50],"title":"(Gy⁻¹ᐟ² mm⁻¹)"}}}},
 {"data":{"values":[{"t":"h"}]},"mark":{"type":"text","fontSize":22,"fontWeight":"bold","color":"black","baseline":"middle","align":"center"},"encoding":{"text":{"field":"t"},"x":{"datum":187,"type":"quantitative","axis":null},"y":{"datum":41,"type":"quantitative","axis":{"values":[0,50],"title":"(Gy⁻¹ᐟ² mm⁻¹)"}}}}
]},
{"width":472,"height":113,"title":"Imaging quality (Qₛᵧₛ)","layer":[
 {"data":{"name":"bd"},"mark":{"type":"area","color":"#4a5b67","opacity":0.14,"clip":true},"encoding":{"x":{"field":"x","type":"quantitative","scale":{"domain":[0,1092],"nice":false},"axis":null},"y":{"field":"ql","type":"quantitative","scale":{"domain":[0.056,0.588],"nice":false,"zero":false},"axis":{"values":[0.25,0.5],"format":".2f","title":null}},"y2":{"field":"qh"}}},
 {"data":{"name":"d"},"mark":{"type":"line","strokeWidth":2,"clip":true},"encoding":{
  "x":{"field":"x","type":"quantitative","scale":{"domain":[0,1092],"nice":false},"axis":null},
  "y":{"field":"q","type":"quantitative","scale":{"domain":[0.056,0.588],"nice":false,"zero":false},"axis":{"values":[0.25,0.5],"format":".2f","title":null}},
  "color":{"field":"E","type":"nominal","scale":{"domain":["50 keV","60 keV","70 keV","80 keV","0.75 m","3.5 m","5.5 m","7.5 m"],"range":["#f7b9cf","#7b8252","#4a5b67","#e9a263","#000000","#000000","#000000","#000000"]},"legend":{"orient":"none","legendX":210,"legendY":-165,"columns":4,"direction":"horizontal","title":null,"symbolType":"M-1.45,0H1.45","symbolSize":1200,"symbolStrokeWidth":3,"labelFontSize":21,"labelFont":"DejaVu Sans","labelColor":"black","labelOffset":16,"labelLimit":300,"columnPadding":38,"rowPadding":2,"padding":4,"strokeColor":"#cccccc","cornerRadius":5,"encode":{"symbols":{"update":{"strokeDash":{"signal":"datum.value=='0.75 m'?[3,5]:datum.value=='3.5 m'?[14,5,3,5]:datum.value=='5.5 m'?[15,7]:[1,0]"}}},"legend":{"update":{"strokeWidth":{"value":2}}}}}},
  "strokeDash":{"field":"d","type":"nominal","scale":{"domain":["0.75 m","3.5 m","5.5 m","7.5 m"],"range":[[2,3.3],[12.8,3.2,2,3.2],[7.4,3.2],[1,0]]},"legend":null}}},
 {"data":{"values":[{"t":"d"}]},"mark":{"type":"square","size":1296,"fill":"white","stroke":"black","strokeWidth":2,"opacity":1},"encoding":{"x":{"datum":1020,"type":"quantitative","axis":null},"y":{"datum":0.449,"type":"quantitative","axis":{"values":[0.25,0.5],"format":".2f","title":null}}}},
 {"data":{"values":[{"t":"d"}]},"mark":{"type":"text","fontSize":22,"fontWeight":"bold","color":"black","baseline":"middle","align":"center"},"encoding":{"text":{"field":"t"},"x":{"datum":1020,"type":"quantitative","axis":null},"y":{"datum":0.449,"type":"quantitative","axis":{"values":[0.25,0.5],"format":".2f","title":null}}}}
]},
{"width":473,"height":113,"title":"Imaging quality (Qₛᵧₛ)","layer":[
 {"data":{"name":"bd"},"mark":{"type":"area","color":"#4a5b67","opacity":0.14,"clip":true},"encoding":{"x":{"field":"x","type":"quantitative","scale":{"domain":[0,200],"nice":false},"axis":null},"y":{"field":"ql","type":"quantitative","scale":{"domain":[0.053,0.606],"nice":false,"zero":false},"axis":{"values":[0.25,0.5],"format":".2f","title":null}},"y2":{"field":"qh"}}},
 {"data":{"name":"d"},"mark":{"type":"line","strokeWidth":2,"clip":true},"encoding":{
  "x":{"field":"x","type":"quantitative","scale":{"domain":[0,200],"nice":false},"axis":null},
  "y":{"field":"q","type":"quantitative","scale":{"domain":[0.053,0.606],"nice":false,"zero":false},"axis":{"values":[0.25,0.5],"format":".2f","title":null}},
  "color":{"field":"E","type":"nominal","scale":{"domain":["50 keV","60 keV","70 keV","80 keV","0.75 m","3.5 m","5.5 m","7.5 m"],"range":["#f7b9cf","#7b8252","#4a5b67","#e9a263","#000000","#000000","#000000","#000000"]},"legend":{"orient":"none","legendX":210,"legendY":-165,"columns":4,"direction":"horizontal","title":null,"symbolType":"M-1.45,0H1.45","symbolSize":1200,"symbolStrokeWidth":3,"labelFontSize":21,"labelFont":"DejaVu Sans","labelColor":"black","labelOffset":16,"labelLimit":300,"columnPadding":38,"rowPadding":2,"padding":4,"strokeColor":"#cccccc","cornerRadius":5,"encode":{"symbols":{"update":{"strokeDash":{"signal":"datum.value=='0.75 m'?[3,5]:datum.value=='3.5 m'?[14,5,3,5]:datum.value=='5.5 m'?[15,7]:[1,0]"}}},"legend":{"update":{"strokeWidth":{"value":2}}}}}},
  "strokeDash":{"field":"d","type":"nominal","scale":{"domain":["0.75 m","3.5 m","5.5 m","7.5 m"],"range":[[2,3.3],[12.8,3.2,2,3.2],[7.4,3.2],[1,0]]},"legend":null}}},
 {"data":{"values":[{"t":"i"}]},"mark":{"type":"square","size":1296,"fill":"white","stroke":"black","strokeWidth":2,"opacity":1},"encoding":{"x":{"datum":186,"type":"quantitative","axis":null},"y":{"datum":0.462,"type":"quantitative","axis":{"values":[0.25,0.5],"format":".2f","title":null}}}},
 {"data":{"values":[{"t":"i"}]},"mark":{"type":"text","fontSize":22,"fontWeight":"bold","color":"black","baseline":"middle","align":"center"},"encoding":{"text":{"field":"t"},"x":{"datum":186,"type":"quantitative","axis":null},"y":{"datum":0.462,"type":"quantitative","axis":{"values":[0.25,0.5],"format":".2f","title":null}}}}
]},
{"width":472,"height":113,"title":"Biomedical imaging quality (Qᵦᵢₒ)","layer":[
 {"data":{"name":"bd"},"mark":{"type":"area","color":"#4a5b67","opacity":0.14,"clip":true},"encoding":{"x":{"field":"x","type":"quantitative","scale":{"domain":[0,1092],"nice":false},"axis":{"values":[0,200,400,600,800,1000],"format":"d","title":"Mean absorbed dose, ST (mGy)"}},"y":{"field":"bl","type":"quantitative","scale":{"domain":[-1.5,19.8],"nice":false,"zero":false},"axis":{"values":[0,10],"title":null}},"y2":{"field":"bh"}}},
 {"data":{"name":"d"},"mark":{"type":"line","strokeWidth":2,"clip":true},"encoding":{
  "x":{"field":"x","type":"quantitative","scale":{"domain":[0,1092],"nice":false},"axis":{"values":[0,200,400,600,800,1000],"format":"d","title":"Mean absorbed dose, ST (mGy)"}},
  "y":{"field":"b","type":"quantitative","scale":{"domain":[-1.5,19.8],"nice":false,"zero":false},"axis":{"values":[0,10],"title":null}},
  "color":{"field":"E","type":"nominal","scale":{"domain":["50 keV","60 keV","70 keV","80 keV","0.75 m","3.5 m","5.5 m","7.5 m"],"range":["#f7b9cf","#7b8252","#4a5b67","#e9a263","#000000","#000000","#000000","#000000"]},"legend":{"orient":"none","legendX":210,"legendY":-165,"columns":4,"direction":"horizontal","title":null,"symbolType":"M-1.45,0H1.45","symbolSize":1200,"symbolStrokeWidth":3,"labelFontSize":21,"labelFont":"DejaVu Sans","labelColor":"black","labelOffset":16,"labelLimit":300,"columnPadding":38,"rowPadding":2,"padding":4,"strokeColor":"#cccccc","cornerRadius":5,"encode":{"symbols":{"update":{"strokeDash":{"signal":"datum.value=='0.75 m'?[3,5]:datum.value=='3.5 m'?[14,5,3,5]:datum.value=='5.5 m'?[15,7]:[1,0]"}}},"legend":{"update":{"strokeWidth":{"value":2}}}}}},
  "strokeDash":{"field":"d","type":"nominal","scale":{"domain":["0.75 m","3.5 m","5.5 m","7.5 m"],"range":[[2,3.3],[12.8,3.2,2,3.2],[7.4,3.2],[1,0]]},"legend":null}}},
 {"data":{"values":[{"t":"e"}]},"mark":{"type":"square","size":1296,"fill":"white","stroke":"black","strokeWidth":2,"opacity":1},"encoding":{"x":{"datum":1020,"type":"quantitative","axis":{"values":[0,200,400,600,800,1000],"format":"d","title":"Mean absorbed dose, ST (mGy)"}},"y":{"datum":14.4,"type":"quantitative","axis":{"values":[0,10],"title":null}}}},
 {"data":{"values":[{"t":"e"}]},"mark":{"type":"text","fontSize":22,"fontWeight":"bold","color":"black","baseline":"middle","align":"center"},"encoding":{"text":{"field":"t"},"x":{"datum":1020,"type":"quantitative","axis":{"values":[0,200,400,600,800,1000],"format":"d","title":"Mean absorbed dose, ST (mGy)"}},"y":{"datum":14.4,"type":"quantitative","axis":{"values":[0,10],"title":null}}}}
]},
{"width":473,"height":113,"title":"Biomedical imaging quality (Qᵦᵢₒ)","layer":[
 {"data":{"name":"bd"},"mark":{"type":"area","color":"#4a5b67","opacity":0.14,"clip":true},"encoding":{"x":{"field":"x","type":"quantitative","scale":{"domain":[0,200],"nice":false},"axis":{"values":[0,50,100,150,200],"format":"d","title":"Mean absorbed dose, ST (mGy)"}},"y":{"field":"bl","type":"quantitative","scale":{"domain":[-1.5,19.8],"nice":false,"zero":false},"axis":{"values":[0,10],"title":null}},"y2":{"field":"bh"}}},
 {"data":{"name":"d"},"mark":{"type":"line","strokeWidth":2,"clip":true},"encoding":{
  "x":{"field":"x","type":"quantitative","scale":{"domain":[0,200],"nice":false},"axis":{"values":[0,50,100,150,200],"format":"d","title":"Mean absorbed dose, ST (mGy)"}},
  "y":{"field":"b","type":"quantitative","scale":{"domain":[-1.5,19.8],"nice":false,"zero":false},"axis":{"values":[0,10],"title":null}},
  "color":{"field":"E","type":"nominal","scale":{"domain":["50 keV","60 keV","70 keV","80 keV","0.75 m","3.5 m","5.5 m","7.5 m"],"range":["#f7b9cf","#7b8252","#4a5b67","#e9a263","#000000","#000000","#000000","#000000"]},"legend":{"orient":"none","legendX":210,"legendY":-165,"columns":4,"direction":"horizontal","title":null,"symbolType":"M-1.45,0H1.45","symbolSize":1200,"symbolStrokeWidth":3,"labelFontSize":21,"labelFont":"DejaVu Sans","labelColor":"black","labelOffset":16,"labelLimit":300,"columnPadding":38,"rowPadding":2,"padding":4,"strokeColor":"#cccccc","cornerRadius":5,"encode":{"symbols":{"update":{"strokeDash":{"signal":"datum.value=='0.75 m'?[3,5]:datum.value=='3.5 m'?[14,5,3,5]:datum.value=='5.5 m'?[15,7]:[1,0]"}}},"legend":{"update":{"strokeWidth":{"value":2}}}}}},
  "strokeDash":{"field":"d","type":"nominal","scale":{"domain":["0.75 m","3.5 m","5.5 m","7.5 m"],"range":[[2,3.3],[12.8,3.2,2,3.2],[7.4,3.2],[1,0]]},"legend":null}}},
 {"data":{"values":[{"t":"j"}]},"mark":{"type":"square","size":1296,"fill":"white","stroke":"black","strokeWidth":2,"opacity":1},"encoding":{"x":{"datum":186,"type":"quantitative","axis":{"values":[0,50,100,150,200],"format":"d","title":"Mean absorbed dose, ST (mGy)"}},"y":{"datum":14.4,"type":"quantitative","axis":{"values":[0,10],"title":null}}}},
 {"data":{"values":[{"t":"j"}]},"mark":{"type":"text","fontSize":22,"fontWeight":"bold","color":"black","baseline":"middle","align":"center"},"encoding":{"text":{"field":"t"},"x":{"datum":186,"type":"quantitative","axis":{"values":[0,50,100,150,200],"format":"d","title":"Mean absorbed dose, ST (mGy)"}},"y":{"datum":14.4,"type":"quantitative","axis":{"values":[0,10],"title":null}}}}
]}
]
}
